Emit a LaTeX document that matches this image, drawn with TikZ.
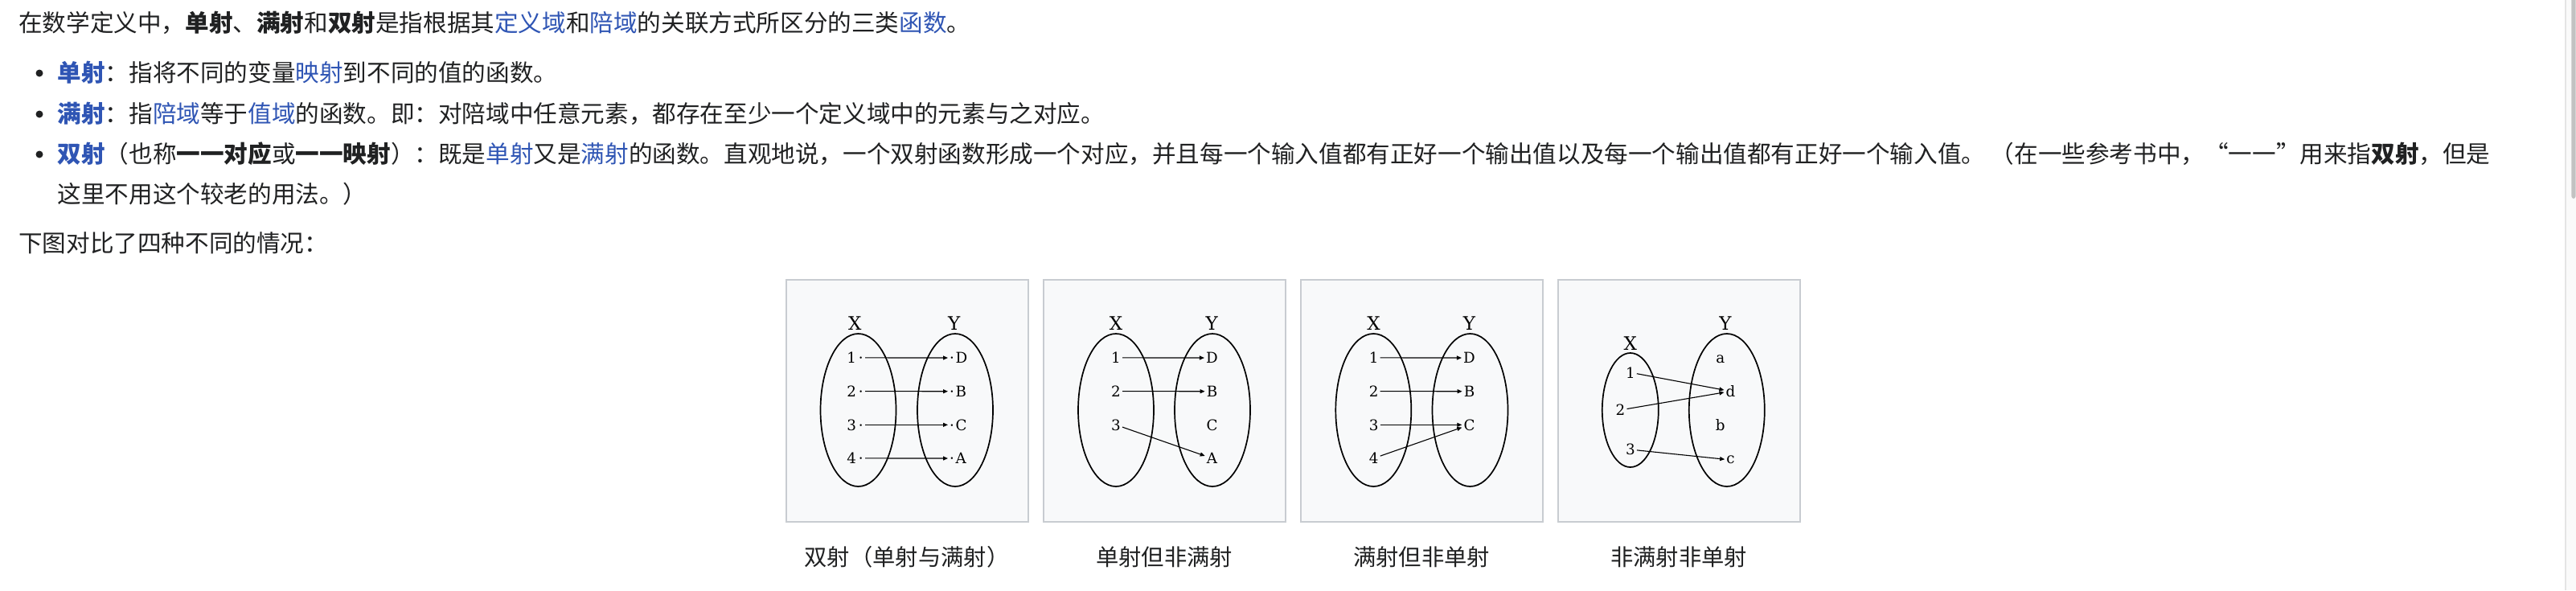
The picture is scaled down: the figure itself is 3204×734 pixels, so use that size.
\documentclass[tikz,border=0pt]{standalone}
\usepackage{fontspec}
\setmainfont{Noto Sans CJK SC}
\newfontfamily\figfont{DejaVu Serif}
\usepackage{tikz}
\usetikzlibrary{
  arrows.meta,
  shapes.geometric
}

\definecolor{wikitext}{HTML}{202122}
\definecolor{wikilink}{HTML}{2F55B4}
\definecolor{thumbfill}{HTML}{F8F9FA}
\definecolor{thumbedge}{HTML}{C8CCD1}
\definecolor{sbtrack}{HTML}{FAFAFA}
\definecolor{sbedge}{HTML}{E4E4E4}
\definecolor{sbthumb}{HTML}{C2C2C2}

\newcommand{\bodyfont}{\fontsize{29.6}{36}\selectfont}
\newcommand{\capfont}{\fontsize{28.3}{34}\selectfont}
\newcommand{\lnk}[1]{\textcolor{wikilink}{#1}}

\begin{document}
\begin{tikzpicture}[
  x=1pt, y=-1pt,
  para/.style={
    anchor=base west,
    inner sep=0pt,
    text=wikitext,
    font=\bodyfont
  },
  bulletdot/.style={
    circle,
    fill=wikitext,
    inner sep=0pt,
    minimum size=9pt
  },
  panel/.style={
    rectangle,
    draw=thumbedge,
    fill=thumbfill,
    line width=2pt,
    minimum width=301pt,
    minimum height=301pt
  },
  setring/.style={
    ellipse,
    draw=black,
    line width=1.7pt,
    inner sep=0pt,
    minimum width=94pt,
    minimum height=190pt
  },
  setlabel/.style={
    anchor=base,
    inner sep=0pt,
    font=\figfont\fontsize{23}{23}\selectfont
  },
  elem/.style={
    anchor=base,
    inner sep=2pt,
    font=\figfont\fontsize{18.3}{18.3}\selectfont
  },
  map/.style={
    -{Triangle[length=6pt, width=5pt]},
    line width=1.1pt,
    draw=black
  },
  caption/.style={
    anchor=base,
    inner sep=0pt,
    text=wikitext,
    font=\capfont
  }
]
\useasboundingbox (0,0) rectangle (3204,734);
\fill[white] (0,0) rectangle (3204,734);

% Text above the figure
\node[para] (intro) at (23,39.5) {在数学定义中，\textbf{单射}、\textbf{满射}和\textbf{双射}是指根据其\lnk{定义域}和\lnk{陪域}的关联方式所区分的三类\lnk{函数}。};

\node[bulletdot] (dotinj) at (49,91) {};
\node[para] (inj) at (71.5,101.5) {\lnk{\textbf{单射}}：指将不同的变量\lnk{映射}到不同的值的函数。};

\node[bulletdot] (dotsur) at (49,142) {};
\node[para] (sur) at (71.5,152.5) {\lnk{\textbf{满射}}：指\lnk{陪域}等于\lnk{值域}的函数。即：对陪域中任意元素，都存在至少一个定义域中的元素与之对应。};

\node[bulletdot] (dotbij) at (49,192) {};
\node[para] (bij) at (71.5,202.5) {\lnk{\textbf{双射}}（也称\textbf{一一对应}或\textbf{一一映射}）：既是\lnk{单射}又是\lnk{满射}的函数。直观地说，一个双射函数形成一个对应，并且每一个输入值都有正好一个输出值以及每一个输出值都有正好一个输入值。 （在一些参考书中，“一一”用来指\textbf{双射}，但是};
\node[para] (bijcont) at (71.5,252) {这里不用这个较老的用法。）};

\node[para] (lead) at (23,313) {下图对比了四种不同的情况：};

% Panel 1: bijective
\begin{scope}[shift={(976.5,347)}]
  \node[panel] (p1) at (151.5,151.5) {};
  \node[setring] (p1X) at (91,163) {};
  \node[setring] (p1Y) at (211.5,163) {};
  \node[setlabel] (p1lx) at (86.7,63) {X};
  \node[setlabel] (p1ly) at (210.3,63) {Y};
  \node[elem, anchor=base east] (p1a1) at (99.5,104.7) {1\kern3pt·};
  \node[elem, anchor=base east] (p1a2) at (99.5,146.4) {2\kern3pt·};
  \node[elem, anchor=base east] (p1a3) at (99.5,188) {3\kern3pt·};
  \node[elem, anchor=base east] (p1a4) at (99.5,229.7) {4\kern3pt·};
  \node[elem, anchor=base west] (p1bD) at (202.5,104.7) {·\kern1.5pt D};
  \node[elem, anchor=base west] (p1bB) at (202.5,146.4) {·\kern1.5pt B};
  \node[elem, anchor=base west] (p1bC) at (202.5,188) {·\kern1.5pt C};
  \node[elem, anchor=base west] (p1bA) at (202.5,229.7) {·\kern1.5pt A};
  \draw[map] (p1a1.east) -- (p1bD.west);
  \draw[map] (p1a2.east) -- (p1bB.west);
  \draw[map] (p1a3.east) -- (p1bC.west);
  \draw[map] (p1a4.east) -- (p1bA.west);
\end{scope}

% Panel 2: injective, not surjective
\begin{scope}[shift={(1296.5,347)}]
  \node[panel] (p2) at (151.5,151.5) {};
  \node[setring] (p2X) at (91.5,163) {};
  \node[setring] (p2Y) at (211.5,163) {};
  \node[setlabel] (p2lx) at (91.5,63) {X};
  \node[setlabel] (p2ly) at (210.8,63) {Y};
  \node[elem] (p2a1) at (91.5,104.7) {1};
  \node[elem] (p2a2) at (91.5,146.4) {2};
  \node[elem] (p2a3) at (91.5,188) {3};
  \node[elem] (p2bD) at (211,104.7) {D};
  \node[elem] (p2bB) at (211,146.4) {B};
  \node[elem] (p2bC) at (211,188) {C};
  \node[elem] (p2bA) at (211,229.7) {A};
  \draw[map] (p2a1.east) -- (p2bD.west);
  \draw[map] (p2a2.east) -- (p2bB.west);
  \draw[map] (p2a3) -- (p2bA);
\end{scope}

% Panel 3: surjective, not injective
\begin{scope}[shift={(1616.5,347)}]
  \node[panel] (p3) at (151.5,151.5) {};
  \node[setring] (p3X) at (91.8,163) {};
  \node[setring] (p3Y) at (212,163) {};
  \node[setlabel] (p3lx) at (92,63) {X};
  \node[setlabel] (p3ly) at (211,63) {Y};
  \node[elem] (p3a1) at (92.2,104.7) {1};
  \node[elem] (p3a2) at (92.2,146.4) {2};
  \node[elem] (p3a3) at (92.2,188) {3};
  \node[elem] (p3a4) at (92.2,229.7) {4};
  \node[elem] (p3bD) at (211,104.7) {D};
  \node[elem] (p3bB) at (211,146.4) {B};
  \node[elem] (p3bC) at (211,188) {C};
  \draw[map] (p3a1.east) -- (p3bD.west);
  \draw[map] (p3a2.east) -- (p3bB.west);
  \draw[map] (p3a3.east) -- (p3bC.west);
  \draw[map] (p3a4) -- (p3bC);
\end{scope}

% Panel 4: neither
\begin{scope}[shift={(1936.5,347)}]
  \node[panel] (p4) at (151.5,151.5) {};
  \node[setring, minimum width=70pt, minimum height=142pt] (p4X) at (91.3,163) {};
  \node[setring] (p4Y) at (211.3,163) {};
  \node[setlabel] (p4lx) at (91.3,88) {X};
  \node[setlabel] (p4ly) at (209.5,63) {Y};
  \node[elem] (p4a1) at (91.3,123) {1};
  \node[elem] (p4a2) at (79,169.7) {2};
  \node[elem] (p4a3) at (91.3,218.7) {3};
  \node[elem] (p4ba) at (203.3,104.7) {a};
  \node[elem] (p4bd) at (216,146.4) {d};
  \node[elem] (p4bb) at (203.3,188) {b};
  \node[elem] (p4bc) at (216,229.7) {c};
  \draw[map] (p4a1) -- (p4bd);
  \draw[map] (p4a2) -- (p4bd);
  \draw[map] (p4a3) -- (p4bc);
\end{scope}

% Captions under the panels
\node[caption] (cap1) at (1128,703.5) {双射（单射与满射）};
\node[caption] (cap2) at (1448,703.5) {单射但非满射};
\node[caption] (cap3) at (1768,703.5) {满射但非单射};
\node[caption] (cap4) at (2088,703.5) {非满射非单射};

% Scrollbar at the right edge
\fill[sbtrack] (3191,0) rectangle (3204,734);
\draw[sbedge, line width=1.5pt] (3191,0) -- (3191,734);
\fill[sbthumb, rounded corners=3pt] (3198.3,-6) rectangle (3203.6,247);

\end{tikzpicture}
\end{document}
